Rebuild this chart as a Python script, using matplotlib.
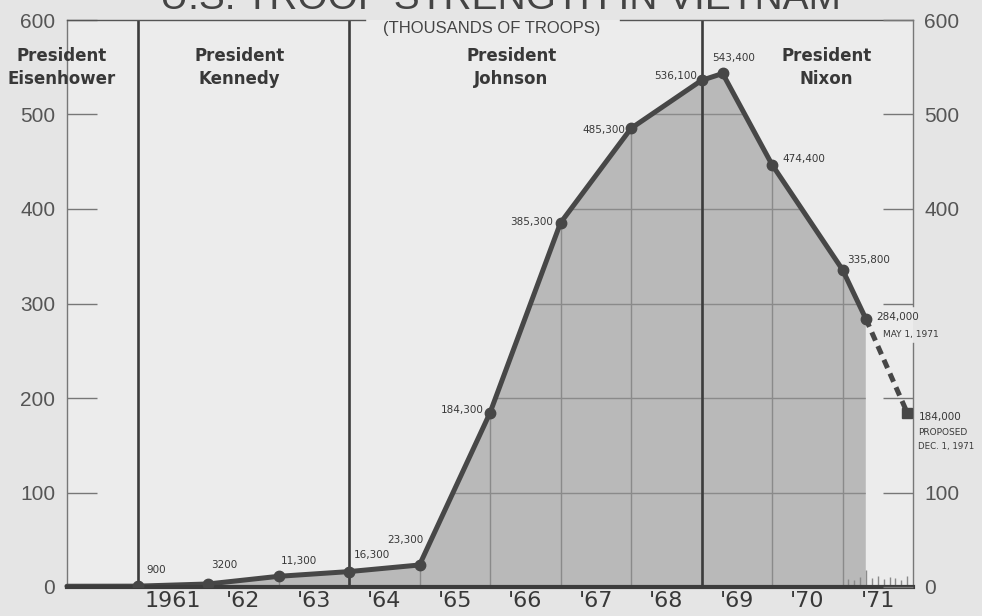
import matplotlib
matplotlib.use("Agg")
import matplotlib.pyplot as plt
from matplotlib.patches import Polygon

# troop strength in thousands, dates as decimal years (end of each year)
dates = [1960.0, 1961.0, 1962.0, 1963.0, 1964.0, 1965.0, 1966.0, 1967.0,
         1968.0, 1969.0, 1969.3, 1970.0, 1971.0, 1971.33]
troops = [0.8, 0.9, 3.2, 11.3, 16.3, 23.3, 184.3, 385.3, 485.3, 536.1,
          543.4, 447.0, 335.8, 284.0]
point_labels = ["", "900", "3200", "11,300", "16,300", "23,300", "184,300",
                "385,300", "485,300", "536,100", "543,400", "474,400",
                "335,800", "284,000"]
proposed_date = 1971.92
proposed_troops = 184.0

presidents = ["President\nEisenhower", "President\nKennedy",
              "President\nJohnson", "President\nNixon"]
term_changes = [1961.0, 1964.0, 1969.0]
year_labels = ["1961", "'62", "'63", "'64", "'65", "'66", "'67", "'68",
               "'69", "'70", "'71"]
years = list(range(1961, 1972))

# label placement (pixels from the point, alignment)
label_offsets = [None, (9, 16, "left"), (3, 19, "left"), (2, 15, "left"),
                 (5, 17, "left"), (-14, 25, "center"), (-6, 3, "right"),
                 (-7, 1, "right"), (-6, -2, "right"), (-4, 4, "right"),
                 (11, 15, "center"), (10, 6, "left"), (5, 10, "left"),
                 (10, 2, "left")]
president_x = [1959.93, 1962.45, 1966.30, 1970.77]

NARROW = ["Liberation Sans Narrow", "DejaVu Sans"]
SANS = ["Liberation Sans", "DejaVu Sans"]
LINE = "#474747"
GRID = "#8a8a8a"
TEXT = "#383838"

fig = plt.figure(figsize=(9.82, 6.16), dpi=100, facecolor="#e5e5e5")
ax = fig.add_axes([67 / 982, 29 / 616, 846 / 982, 567 / 616])
ax.set_facecolor("#ececec")
ax.set_xlim(1960, 1972)
ax.set_ylim(0, 600)

# shaded area under the actual figures
fill = Polygon(list(zip(dates + [dates[-1], dates[0]], troops + [0, 0])),
               closed=True, facecolor="#b9b9b9", edgecolor="none", zorder=1)
ax.add_patch(fill)

# grid only shows inside the shaded area
hl = ax.hlines([100, 200, 300, 400, 500], 1960, 1972, color=GRID, lw=1, zorder=2)
vl = ax.vlines(years, 0, 600, color=GRID, lw=1, zorder=2)
hl.set_clip_path(fill)
vl.set_clip_path(fill)

# months of 1971
month_ticks = [1971 + m / 12 for m in range(1, 12)]
month_len = [8, 7, 11, 18, 9, 12, 8, 11, 9, 7, 12]
ax.vlines(month_ticks, 0, month_len, color=GRID, lw=1, zorder=2)

# president terms
ax.vlines(term_changes, 0, 600, color="#3c3c3c", lw=1.9, zorder=3)
for px, name in zip(president_x, presidents):
    ax.text(px, 550, name, ha="center", va="center", fontsize=12,
            fontweight="bold", family=NARROW, color=TEXT,
            linespacing=1.35, zorder=5)

# frame: top line with gap for subtitle, right side with gap for label
ax.plot([1960, 1964.23], [600, 600], color="#555555", lw=1, clip_on=False, zorder=3)
ax.plot([1967.84, 1972], [600, 600], color="#555555", lw=1, clip_on=False, zorder=3)
ax.plot([1972, 1972], [0, 258], color="#777777", lw=1, clip_on=False, zorder=3)
ax.plot([1972, 1972], [297, 600], color="#777777", lw=1, clip_on=False, zorder=3)
ax.annotate("(THOUSANDS OF TROOPS)", (1966.03, 600), xytext=(0, -1),
            textcoords="offset pixels", ha="center", va="top", fontsize=12,
            family=SANS, color="#444444")

# troop line
ax.plot(dates, troops, color=LINE, lw=3.6, zorder=6, solid_capstyle="round",
        clip_on=False)
ax.plot(dates[1:], troops[1:], "o", color=LINE, ms=7.5, zorder=7)
ax.plot([dates[-1], proposed_date], [troops[-1], proposed_troops],
        color=LINE, lw=3.6, ls=(0, (1.8, 1.2)), zorder=6)
ax.plot([proposed_date], [proposed_troops], "s", color=LINE, ms=7, zorder=7)

for d, t, lab, off in zip(dates, troops, point_labels, label_offsets):
    if off is None:
        continue
    ax.annotate(lab, (d, t), xytext=(off[0], off[1]), textcoords="offset pixels",
                ha=off[2], va="center", fontsize=7.5, color=TEXT, zorder=8)

ax.annotate("MAY 1, 1971", (dates[-1], troops[-1]), xytext=(17, -16),
            textcoords="offset pixels", ha="left", va="center", fontsize=6.5,
            color=TEXT)
ax.annotate("184,000", (proposed_date, proposed_troops), xytext=(11, -4),
            textcoords="offset pixels", ha="left", va="center", fontsize=7.5,
            color=TEXT, annotation_clip=False)
ax.annotate("PROPOSED", (proposed_date, proposed_troops), xytext=(11, -19),
            textcoords="offset pixels", ha="left", va="center", fontsize=6.5,
            color=TEXT, annotation_clip=False)
ax.annotate("DEC. 1, 1971", (proposed_date, proposed_troops), xytext=(11, -33),
            textcoords="offset pixels", ha="left", va="center", fontsize=6.2,
            color=TEXT, annotation_clip=False)

# axes
for side in ["top", "right"]:
    ax.spines[side].set_visible(False)
ax.spines["left"].set_color("#777777")
ax.spines["left"].set_linewidth(1)
ax.spines["bottom"].set_color("#3c3c3c")
ax.spines["bottom"].set_linewidth(3)
ax.spines["bottom"].set_zorder(6)

ticks = [0, 100, 200, 300, 400, 500, 600]
ax.set_yticks(ticks)
ax.set_yticklabels([str(t) for t in ticks], family=SANS, fontsize=15, color="#555555")
ax.tick_params(axis="y", direction="in", length=21.5, width=1, color="#777777", pad=8.5)

ax.set_xticks([y + 0.5 for y in years])
ax.set_xticklabels(year_labels, family=NARROW, fontsize=16, color=TEXT)
ax.tick_params(axis="x", length=0, pad=3)

ax2 = ax.twinx()
ax2.set_ylim(0, 600)
ax2.set_yticks(ticks)
ax2.set_yticklabels(["0", "100", "", "", "400", "500", "600"], family=SANS,
                    fontsize=15, color="#555555")
ax2.tick_params(axis="y", direction="in", length=21.5, width=1, color="#777777", pad=8)
for side in ax2.spines:
    ax2.spines[side].set_visible(False)

fig.text(0.51, 1 - 9 / 616, "U.S. TROOP STRENGTH IN VIETNAM", ha="center",
         va="baseline", fontsize=28, color="#444444", family=SANS)

fig.savefig("out.png", dpi=100, facecolor=fig.get_facecolor())
